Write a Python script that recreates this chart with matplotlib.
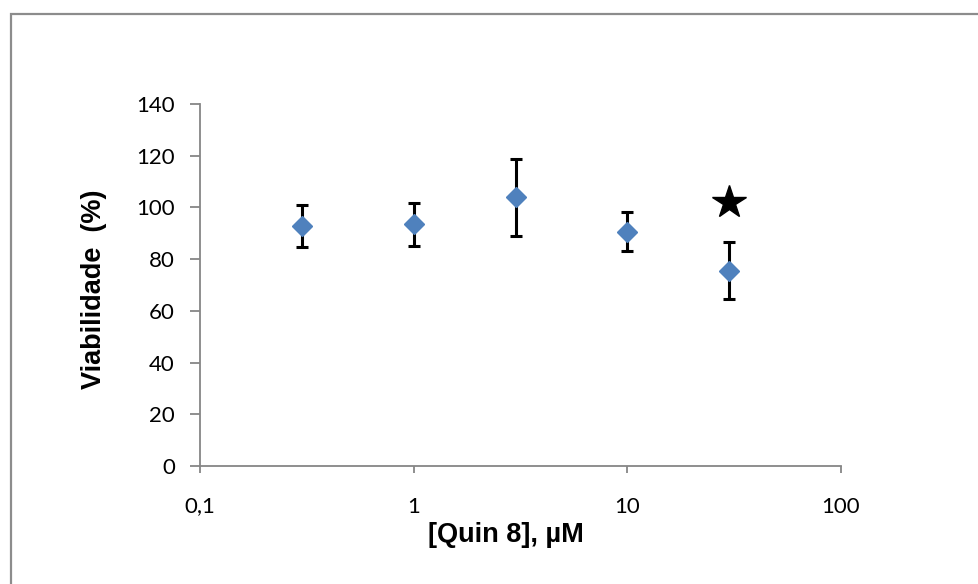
import matplotlib
matplotlib.use("Agg")
import matplotlib.pyplot as plt
from matplotlib.patches import Rectangle
from matplotlib.ticker import FixedLocator, FixedFormatter, NullLocator

# Data
conc = [0.3, 1, 3, 10, 30]
viab = [92.8, 93.4, 104.0, 90.6, 75.6]
err = [8.1, 8.5, 14.9, 7.6, 11.1]
star_x = [30]
star_y = [102.0]
xticks = [0.1, 1, 10, 100]
xticklabels = ["0,1", "1", "10", "100"]
yticks = [0, 20, 40, 60, 80, 100, 120, 140]

W, H = 979, 584
fig = plt.figure(figsize=(W / 100, H / 100), dpi=100)
ax = fig.add_axes([200 / W, (H - 466) / H, 641 / W, 362 / H])

gray = "#868686"
ax.errorbar(conc, viab, yerr=err, fmt="none", ecolor="black", elinewidth=2.2,
            capsize=4.5, capthick=2.2, zorder=2)
ax.plot(conc, viab, linestyle="none", marker="D", markersize=10.2,
        markerfacecolor="#4F81BD", markeredgecolor="#4F81BD", zorder=3)
ax.plot(star_x, star_y, linestyle="none", marker="*", markersize=25,
        color="black", zorder=3)

ax.set_xscale("log")
ax.set_xlim(0.1, 100)
ax.set_ylim(0, 140)
ax.xaxis.set_major_locator(FixedLocator(xticks))
ax.xaxis.set_major_formatter(FixedFormatter(xticklabels))
ax.xaxis.set_minor_locator(NullLocator())
ax.set_yticks(yticks)

for s in ["top", "right"]:
    ax.spines[s].set_visible(False)
for s in ["left", "bottom"]:
    ax.spines[s].set_color(gray)
    ax.spines[s].set_linewidth(1.3)

tickfont = "Lato"
ax.tick_params(axis="x", direction="out", length=5, width=1.3, color=gray,
               pad=17, labelsize=16)
ax.tick_params(axis="y", direction="out", length=7, width=1.3, color=gray,
               pad=11, labelsize=16)
for lab in ax.get_xticklabels() + ax.get_yticklabels():
    lab.set_fontfamily(tickfont)

ax.set_xlabel("[Quin 8], µM", fontsize=19.5, fontweight="bold",
              fontfamily="Liberation Sans")
ax.set_ylabel("Viabilidade  (%)", fontsize=19.5, fontweight="bold",
              fontfamily="Liberation Sans")
ax.xaxis.set_label_coords(0.477, -0.155)
ax.yaxis.set_label_coords(-0.145, 0.489)

# Outer chart border (left and top visible)
fig.add_artist(Rectangle((11 / W, -0.1), 1.2, 1 - 14 / H + 0.1,
                         transform=fig.transFigure, fill=False,
                         edgecolor="#8c8c8c", linewidth=1.6, clip_on=False))

fig.savefig("out.png", dpi=100)
